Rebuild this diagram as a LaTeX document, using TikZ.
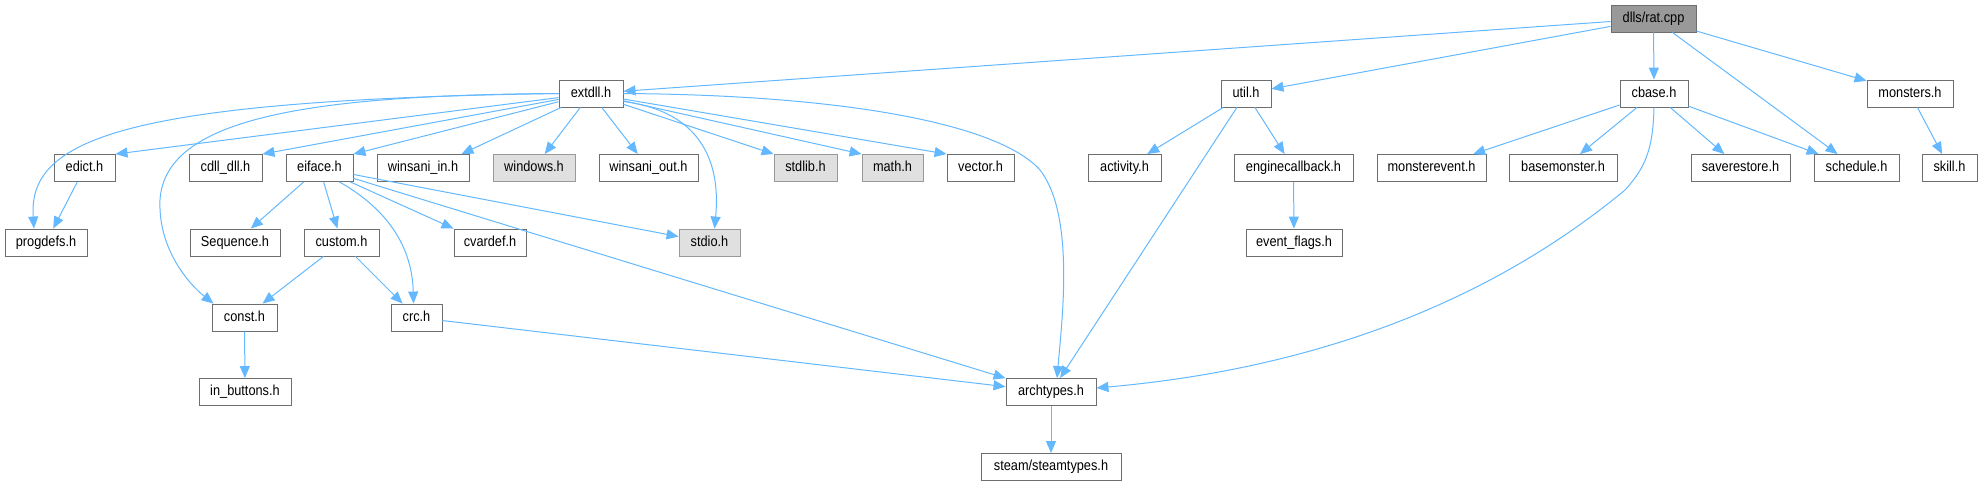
\documentclass[tikz,border=0pt]{standalone}
\usepackage{fontspec}
\setmainfont[FakeStretch=0.88]{Liberation Sans}
\usepackage{tikz}
\usetikzlibrary{arrows.meta}
\definecolor{edgeblue}{HTML}{63B8FF}
\definecolor{boxline}{HTML}{6E6E6E}
\definecolor{sysfill}{HTML}{E0E0E0}
\definecolor{sysline}{HTML}{999999}
\definecolor{rootfill}{HTML}{999999}

\begin{document}
\begin{tikzpicture}[x=1pt, y=-1pt, >={Triangle[length=12pt, width=10pt]},
  hdr/.style={draw=boxline, line width=0.9pt, fill=white, minimum height=27pt,
    inner sep=0pt, text height=10.5pt, text depth=3pt,
    font=\fontsize{14.5}{16}\selectfont},
  syshdr/.style={hdr, draw=sysline, fill=sysfill},
  roothdr/.style={hdr, fill=rootfill},
  dep/.style={->, draw=edgeblue, line width=1pt}]
  \useasboundingbox (0,0) rectangle (1983,485);

  % top rows
  \node[roothdr, minimum width=85] (rat) at (1653.5,18.5) {dlls/rat.cpp};
  \node[hdr, minimum width=64] (extdll) at (591,93.5) {extdll.h};
  \node[hdr, minimum width=50] (util) at (1246,93.5) {util.h};
  \node[hdr, minimum width=68] (cbase) at (1654,93.5) {cbase.h};
  \node[hdr, minimum width=86] (monsters) at (1910,93.5) {monsters.h};

  % third row
  \node[hdr, minimum width=61] (edict) at (84.5,168) {edict.h};
  \node[hdr, minimum width=73] (cdll) at (225.5,168) {cdll\_dll.h};
  \node[hdr, minimum width=67] (eiface) at (319.5,168) {eiface.h};
  \node[hdr, minimum width=92] (winin) at (423,168) {winsani\_in.h};
  \node[syshdr, minimum width=82] (windows) at (534,168) {windows.h};
  \node[hdr, minimum width=99] (winout) at (648.5,168) {winsani\_out.h};
  \node[syshdr, minimum width=63] (stdlib) at (805.5,168) {stdlib.h};
  \node[syshdr, minimum width=61] (math) at (892.5,168) {math.h};
  \node[hdr, minimum width=67] (vector) at (980.5,168) {vector.h};
  \node[hdr, minimum width=73] (activity) at (1124.5,168) {activity.h};
  \node[hdr, minimum width=119] (engcb) at (1293.5,168) {enginecallback.h};
  \node[hdr, minimum width=109] (mevent) at (1431.5,168) {monsterevent.h};
  \node[hdr, minimum width=108] (basemon) at (1563,168) {basemonster.h};
  \node[hdr, minimum width=99] (saverest) at (1740.5,168) {saverestore.h};
  \node[hdr, minimum width=85] (schedule) at (1856.5,168) {schedule.h};
  \node[hdr, minimum width=55] (skill) at (1949.5,168) {skill.h};

  % fourth row
  \node[hdr, minimum width=82] (progdefs) at (46,242.5) {progdefs.h};
  \node[hdr, minimum width=90] (sequence) at (235,242.5) {Sequence.h};
  \node[hdr, minimum width=75] (custom) at (341.5,242.5) {custom.h};
  \node[hdr, minimum width=72] (cvardef) at (490,242.5) {cvardef.h};
  \node[syshdr, minimum width=61] (stdio) at (709.5,242.5) {stdio.h};
  \node[hdr, minimum width=96] (evflags) at (1294,242.5) {event\_flags.h};

  % lower rows
  \node[hdr, minimum width=65] (const) at (244.5,317.5) {const.h};
  \node[hdr, minimum width=51] (crc) at (416.5,317.5) {crc.h};
  \node[hdr, minimum width=92] (inbuttons) at (245,392) {in\_buttons.h};
  \node[hdr, minimum width=90] (archtypes) at (1051,392) {archtypes.h};
  \node[hdr, minimum width=140] (steamtypes) at (1051,467) {steam/steamtypes.h};

  % includes of rat.cpp
  \draw[dep] (rat) -- (extdll);
  \draw[dep] (rat) -- (util);
  \draw[dep] (rat) -- (cbase);
  \draw[dep] (rat) -- (schedule);
  \draw[dep] (rat) -- (monsters);

  % includes of extdll.h
  \draw[dep] (extdll.west) .. controls (120,100) and (28,140) .. ([xshift=-12pt]progdefs.north);
  \draw[dep] (extdll.west) .. controls (300,95) and (165,120) .. (160,200)
    .. controls (158,250) and (190,285) .. ([xshift=2pt]const.north west);
  \draw[dep] (extdll) -- (edict.north east);
  \draw[dep] (extdll) -- (cdll.north east);
  \draw[dep] (extdll) -- (eiface.north east);
  \draw[dep] (extdll) -- ([xshift=-8pt]winin.north east);
  \draw[dep] (extdll) -- (windows);
  \draw[dep] (extdll) -- (winout);
  \draw[dep] ([yshift=-8pt]extdll.east) .. controls (690,110) and (722,150) .. ([xshift=5pt]stdio.north);
  \draw[dep] (extdll) -- (stdlib.north west);
  \draw[dep] (extdll) -- (math.north west);
  \draw[dep] (extdll) -- (vector.north west);
  \draw[dep] (extdll.east) .. controls (850,95) and (1000,125) .. (1040,170)
    .. controls (1075,215) and (1062,320) .. ([xshift=6pt]archtypes.north);

  % includes of eiface.h and below
  \draw[dep] (edict) -- (progdefs);
  \draw[dep] (eiface) -- (sequence);
  \draw[dep] (eiface) -- (custom);
  \draw[dep] ([xshift=20pt]eiface.south) .. controls (380,205) and (412,240) .. ([xshift=-3pt]crc.north);
  \draw[dep] (eiface) -- (cvardef.north west);
  \draw[dep] (eiface) -- (stdio);
  \draw[dep] (eiface) -- (archtypes);
  \draw[dep] (custom) -- (const);
  \draw[dep] (custom) -- (crc);
  \draw[dep] (const) -- (inbuttons);
  \draw[dep] (crc) -- (archtypes);

  % includes of util.h
  \draw[dep] (util) -- (activity);
  \draw[dep] (util) -- (engcb);
  \draw[dep] (util) -- (archtypes);
  \draw[dep] (engcb) -- (evflags);

  % includes of cbase.h
  \draw[dep] (cbase) -- (mevent);
  \draw[dep] (cbase) -- (basemon);
  \draw[dep] (cbase) -- (saverest);
  \draw[dep] (cbase) -- (schedule);
  \draw[dep] (cbase.south) .. controls (1653,150) and (1645,168) .. (1625,190)
    .. controls (1480,310) and (1300,370) .. ([yshift=4pt]archtypes.east);
  \draw[dep] (monsters) -- (skill);
  \draw[dep] (archtypes) -- (steamtypes);
\end{tikzpicture}
\end{document}
